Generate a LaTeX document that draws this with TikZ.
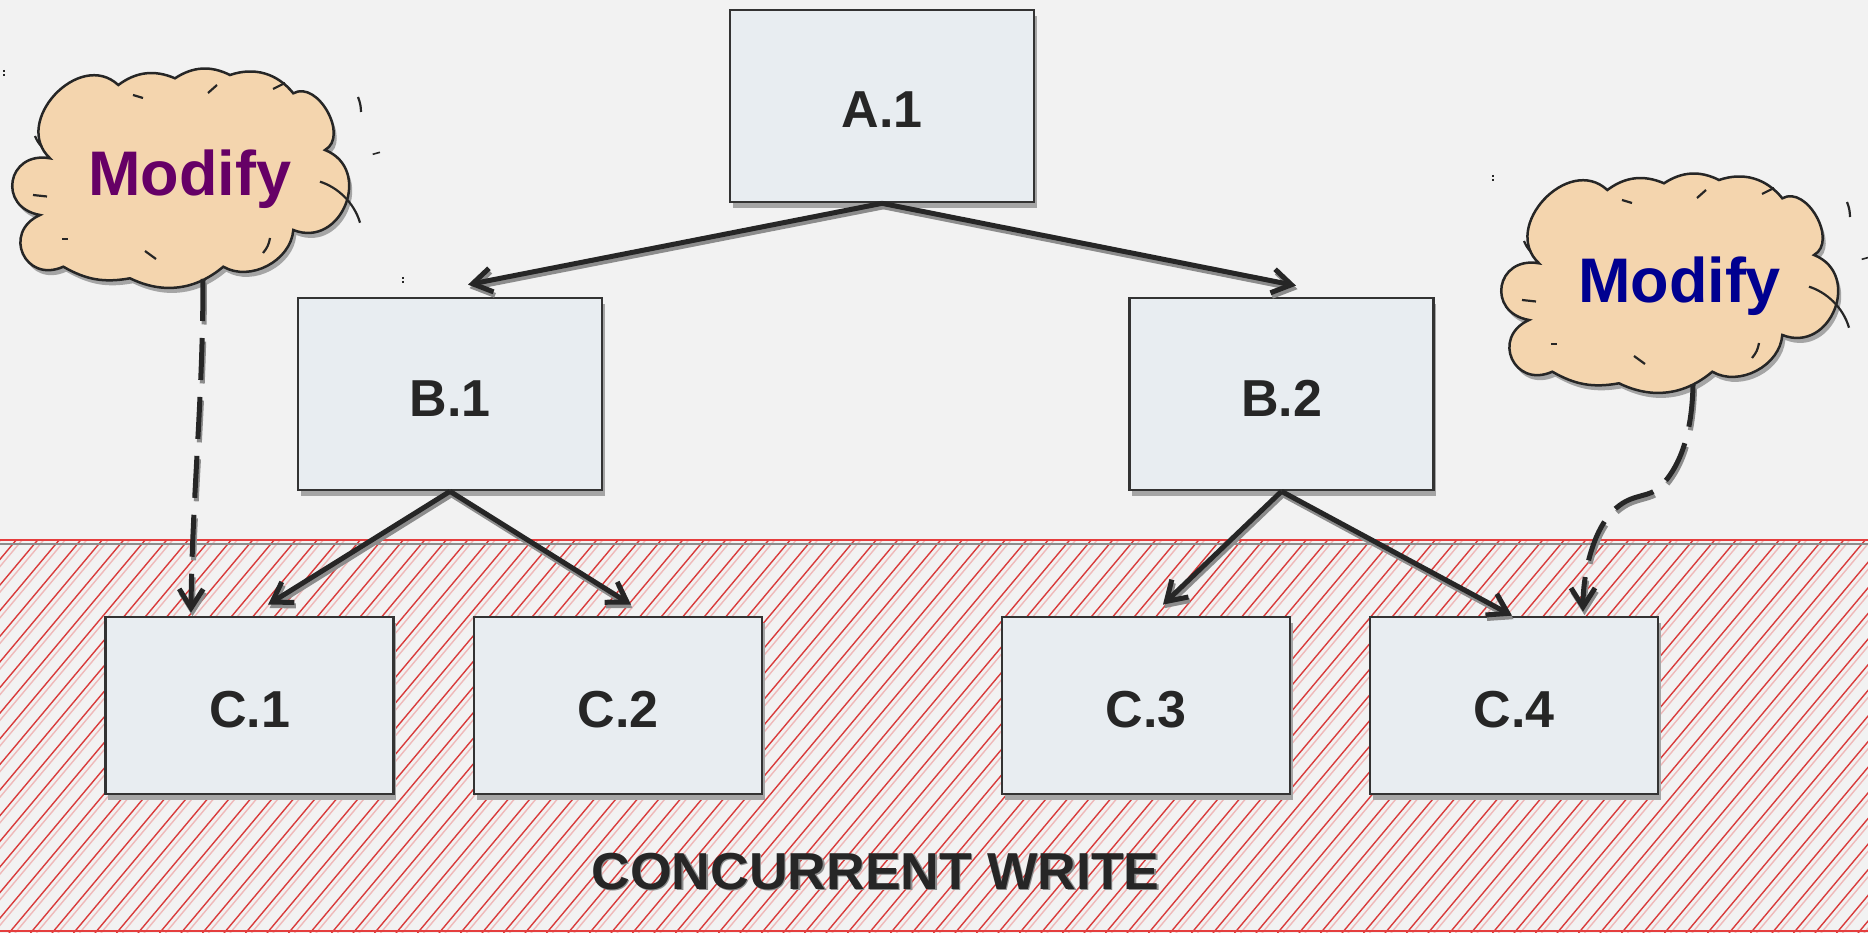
\documentclass[tikz,border=0pt]{standalone}
\usepackage{fontspec}
\setmainfont{Liberation Sans}
\usepackage{graphicx}
\usetikzlibrary{arrows.meta,calc,shadows}
\definecolor{bgc}{HTML}{F2F2F2}
\definecolor{ink}{HTML}{262626}
\definecolor{boxdraw}{HTML}{333333}
\definecolor{boxfill}{HTML}{E8EDF1}
\definecolor{boxshadow}{HTML}{A5A5A5}
\definecolor{lineshadow}{HTML}{8C8C8C}
\definecolor{cloudfill}{HTML}{F4D5AE}
\definecolor{purp}{HTML}{660066}
\definecolor{navy}{HTML}{000090}
\definecolor{hatchred}{HTML}{D93B3B}
\definecolor{hatchpink}{HTML}{EFB9B9}
\definecolor{borderred}{HTML}{E53E3E}
\newcommand{\lblfnt}{\bfseries\fontsize{52}{58}\selectfont}
\newcommand{\modfnt}{\bfseries\fontsize{63}{70}\selectfont}
\newcommand{\cloudoutline}[1]{\path[#1] (-132,-21.7) to[bend left=90,looseness=1.36] (-63.7,-95) to[bend left=30] (-7,-101.7) to[bend left=30] (48,-105) to[bend left=35] (111.3,-86.7) to[bend left=90,looseness=1.1] (143,-30) to[bend left=90,looseness=1.55] (111.3,50) to[bend left=58] (41.3,86.7) to[bend left=33] (-52,98.3) to[bend left=20] (-118.7,86.7) to[bend left=90,looseness=1.9] (-142,35) to[bend left=90,looseness=1.95] (-132,-21.7) -- cycle;}
\newcommand{\cloudmarks}{%
 \draw[sketchline] (-49,-85) -- (-39,-82);
 \draw[sketchline] (26,-87) -- (35,-95);
 \draw[sketchline] (91,-91) -- (103,-97);
 \draw[sketchline] (-149,15) -- (-135,16.5);
 \draw[sketchline] (-120,59) -- (-114,59);
 \draw[sketchline] (-37,71) -- (-26,79);
 \draw[sketchline] (88,58) to[bend left=15] (81,73);
 \draw[sketchline] (138,1.7) .. controls (155,7) and (172,22) .. (178,42.7);
 \draw[sketchline] (176,-83) to[bend left=10] (179,-68);
 \draw[sketchline,line width=1.6pt] (190.7,-25.7) -- (198,-27.7);
 \draw[sketchline] (-147,-44) to[bend right=10] (-140,-33);
 \draw[sketchline,line width=1.2pt,dash pattern=on 2pt off 2pt] (-178,-110) -- (-178,-103);
}
\tikzset{
 box/.style={draw=boxdraw, line width=2.7pt, fill=boxfill, minimum width=304pt, minimum height=192pt, inner sep=0pt, font=\lblfnt, text=ink, text height=44pt, text depth=0pt, drop shadow={shadow xshift=2.5pt, shadow yshift=-6pt, fill=boxshadow, opacity=1}},
 cbox/.style={box, minimum width=288pt, minimum height=177pt},
 conn/.style={draw=ink, line width=5pt, -{Straight Barb[length=19pt,width=24pt]}},
 connshadow/.style={conn, draw=lineshadow, transform canvas={shift={(1.5pt,-3.5pt)}}},
 dconn/.style={conn, dash pattern=on 42pt off 17pt},
 dconnshadow/.style={connshadow, dash pattern=on 42pt off 17pt},
 sketchline/.style={draw=ink, line width=2.2pt},
 modtext/.style={anchor=base, font=\modfnt, inner sep=0pt},
 hatchred/.style={draw=hatchred, line width=1.4pt},
 hatchpink/.style={draw=hatchpink, line width=1.4pt},
}
\begin{document}
\begin{tikzpicture}[x=1pt,y=-1pt]
\useasboundingbox (0,0) rectangle (1868,933);
\fill[bgc] (0,0) rectangle (1868,933);
% hatched zone
\begin{scope}
 \clip (0,540) rectangle (1868,933);
 \foreach \s in {-335,-313.5,...,1880} {
  \draw[hatchpink] (\s+6,933) -- ++(329.7,-393);
  \draw[hatchred] (\s,933) -- ++(329.7,-393);
 }
\end{scope}
\draw[draw=lineshadow, line width=2pt] (0,544) -- (1868,544);
\draw[draw=borderred, line width=2pt] (0,540) -- (1868,540);
\draw[draw=borderred, line width=2pt] (0,931) -- (1868,931);
% boxes
\node[box] (a1) at (882,106) {A.1};
\node[box] (b1) at (450,394) {B.1};
\node[box] (b2) at (1281.5,394) {B.2};
\node[cbox] (c1) at (249.5,705.5) {C.1};
\node[cbox] (c2) at (618,705.5) {C.2};
\node[cbox] (c3) at (1146,705.5) {C.3};
\node[cbox] (c4) at (1514,705.5) {C.4};
% label
\node[anchor=base, font=\lblfnt, text=lineshadow, inner sep=0pt] (cwsh) at (877,890.8) {\scalebox{1.03}[1]{CONCURRENT WRITE}};
\node[anchor=base, font=\lblfnt, text=ink, inner sep=0pt] (cw) at (875.5,889.3) {\scalebox{1.03}[1]{CONCURRENT WRITE}};
% clouds
\begin{scope}[shift={(182,180)}]
 \cloudoutline{fill=boxshadow, shift={(3,5)}}
 \cloudoutline{fill=cloudfill, draw=ink, line width=2.5pt}
 \cloudmarks
 \coordinate (cl1b) at (21,99);
\end{scope}
\node[modtext, text=purp] (m1) at (190,196) {Modify};
\begin{scope}[shift={(1671,285)}]
 \cloudoutline{fill=boxshadow, shift={(3,5)}}
 \cloudoutline{fill=cloudfill, draw=ink, line width=2.5pt}
 \cloudmarks
 \coordinate (cl2b) at (22,100);
\end{scope}
\node[modtext, text=navy] (m2) at (1679.5,302) {Modify};
\draw[sketchline,line width=1.2pt,dash pattern=on 2pt off 2pt] (403,277) -- (403,284);
% arrow end points
\coordinate (tb1) at ($(b1.north)+(18,-12)$);
\coordinate (tb2) at ($(b2.north)+(14.5,-11)$);
\coordinate (tc1) at ($(c1.north)+(18.5,-11)$);
\coordinate (tc2) at ($(c2.north)+(13,-11)$);
\coordinate (tc3) at ($(c3.north)+(17,-11)$);
\coordinate (tc4) at ($(c4.north)+(-2,0)$);
\coordinate (tc1d) at ($(c1.north)+(-58.5,-3)$);
\coordinate (tc4d) at ($(c4.north)+(69,-4)$);
% solid connectors
\draw[connshadow] (a1.south) -- (tb1);
\draw[conn] (a1.south) -- (tb1);
\draw[connshadow] (a1.south) -- (tb2);
\draw[conn] (a1.south) -- (tb2);
\draw[connshadow] (b1.south) -- (tc1);
\draw[conn] (b1.south) -- (tc1);
\draw[connshadow] (b1.south) -- (tc2);
\draw[conn] (b1.south) -- (tc2);
\draw[connshadow] (b2.south) -- (tc3);
\draw[conn] (b2.south) -- (tc3);
\draw[connshadow] (b2.south) -- (tc4);
\draw[conn] (b2.south) -- (tc4);
% dashed connectors
\draw[dconnshadow] (cl1b) .. controls (203,400) and (192,500) .. (tc1d);
\draw[dconn] (cl1b) .. controls (203,400) and (192,500) .. (tc1d);
\draw[dconnshadow] (cl2b) .. controls (1692,430) and (1682,465) .. (1660,487) .. controls (1650,497) and (1635,494) .. (1620,505) .. controls (1595,522) and (1583,570) .. (tc4d);
\draw[dconn] (cl2b) .. controls (1692,430) and (1682,465) .. (1660,487) .. controls (1650,497) and (1635,494) .. (1620,505) .. controls (1595,522) and (1583,570) .. (tc4d);
\end{tikzpicture}
\end{document}
